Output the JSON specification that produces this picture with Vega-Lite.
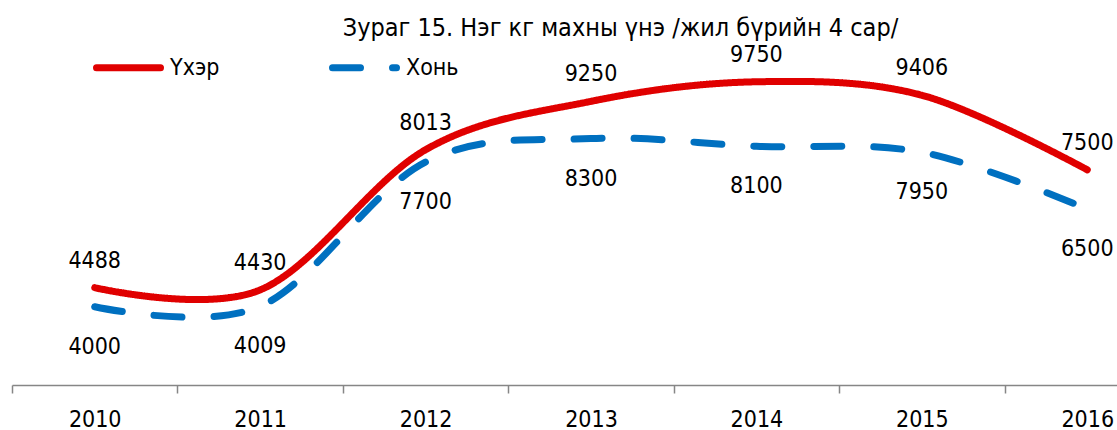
{
  "$schema": "https://vega.github.io/schema/vega-lite/v6.json",
  "width": 1105,
  "height": 313,
  "autosize": {"type": "none"},
  "padding": {"left": 12, "top": 72, "right": 0, "bottom": 45},
  "background": "white",
  "config": {"view": {"stroke": null}, "font": "DejaVu Sans Condensed"},
  "title": {
    "text": "Зураг 15. Нэг кг махны үнэ /жил бүрийн 4 сар/",
    "fontSize": 25,
    "fontWeight": "normal",
    "font": "DejaVu Sans Condensed",
    "color": "black",
    "anchor": "middle",
    "dx": 56,
    "dy": 39,
    "offset": 30
  },
  "data": {
    "values": [
      {"year": 2010, "series": "Үхэр", "price": 4488},
      {"year": 2011, "series": "Үхэр", "price": 4430},
      {"year": 2012, "series": "Үхэр", "price": 8013},
      {"year": 2013, "series": "Үхэр", "price": 9250},
      {"year": 2014, "series": "Үхэр", "price": 9750},
      {"year": 2015, "series": "Үхэр", "price": 9406},
      {"year": 2016, "series": "Үхэр", "price": 7500},
      {"year": 2010, "series": "Хонь", "price": 4000},
      {"year": 2011, "series": "Хонь", "price": 4009},
      {"year": 2012, "series": "Хонь", "price": 7700},
      {"year": 2013, "series": "Хонь", "price": 8300},
      {"year": 2014, "series": "Хонь", "price": 8100},
      {"year": 2015, "series": "Хонь", "price": 7950},
      {"year": 2016, "series": "Хонь", "price": 6500}
    ]
  },
  "encoding": {
    "x": {
      "field": "year",
      "type": "ordinal",
      "scale": {"type": "band", "range": [0, 1158], "paddingInner": 0, "paddingOuter": 0},
      "axis": {
        "title": null,
        "tickBand": "extent",
        "domainColor": "#868686",
        "domainWidth": 1.5,
        "tickColor": "#868686",
        "tickWidth": 1.5,
        "tickSize": 8,
        "labelFontSize": 23,
        "labelFont": "DejaVu Sans Condensed",
        "labelColor": "black",
        "labelPadding": 15,
        "labelAngle": 0,
        "grid": false
      }
    },
    "y": {
      "field": "price",
      "type": "quantitative",
      "scale": {"domain": [2000, 10000], "nice": false, "zero": false},
      "axis": null
    }
  },
  "layer": [
    {
      "mark": {"type": "line", "interpolate": "cardinal", "strokeWidth": 7, "strokeCap": "round", "strokeJoin": "round"},
      "encoding": {
        "color": {
          "field": "series",
          "type": "nominal",
          "scale": {"domain": ["Үхэр", "Хонь"], "range": ["#e00000", "#0070c0"]},
          "legend": {
            "orient": "none",
            "legendX": 81,
            "legendY": -40,
            "direction": "horizontal",
            "title": null,
            "symbolType": "stroke",
            "symbolSize": 4096,
            "symbolStrokeWidth": 7,
            "labelFontSize": 23,
            "labelFont": "DejaVu Sans Condensed",
            "labelColor": "black",
            "columnPadding": 98,
            "labelOffset": 6,
            "padding": 0,
            "encode": {"symbols": {"update": {"strokeCap": {"value": "round"}}}}
          }
        },
        "strokeDash": {
          "field": "series",
          "type": "nominal",
          "scale": {"domain": ["Үхэр", "Хонь"], "range": [[1, 0], [28, 32]]}
        }
      }
    },
    {
      "transform": [{"filter": "datum.series === 'Үхэр'"}],
      "mark": {"type": "text", "dy": -27, "fontSize": 23, "font": "DejaVu Sans Condensed", "color": "black"},
      "encoding": {"text": {"field": "price", "type": "quantitative", "format": "d"}}
    },
    {
      "transform": [{"filter": "datum.series === 'Хонь'"}],
      "mark": {"type": "text", "dy": 40, "fontSize": 23, "font": "DejaVu Sans Condensed", "color": "black"},
      "encoding": {"text": {"field": "price", "type": "quantitative", "format": "d"}}
    }
  ]
}
